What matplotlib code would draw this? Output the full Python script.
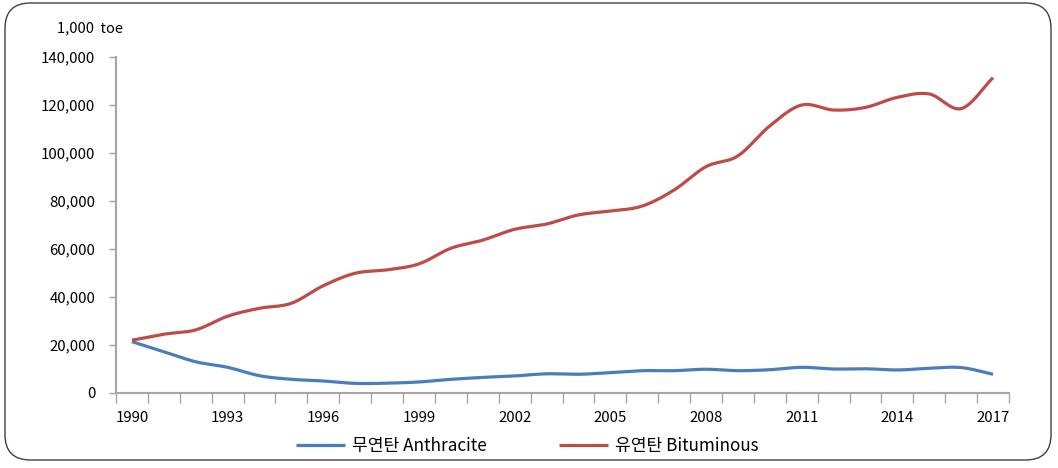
import numpy as np
import matplotlib
matplotlib.use("Agg")
import matplotlib.pyplot as plt
from matplotlib.patches import FancyBboxPatch
from matplotlib.ticker import FuncFormatter

plt.rcParams['font.family'] = ['Noto Sans CJK KR', 'DejaVu Sans']

years = list(range(1990, 2018))
anthracite = [21400, 17200, 13000, 10700, 7200, 5700, 5000, 4000, 4100, 4600,
              5700, 6500, 7100, 8000, 7800, 8500, 9300, 9300, 9900, 9300,
              9700, 10700, 10000, 10100, 9600, 10300, 10600, 7800]
bituminous = [22000, 24500, 26300, 32000, 35300, 37400, 44700, 49900, 51300, 53800,
              60300, 63700, 68200, 70400, 74200, 75800, 77900, 84600, 94300, 98800,
              111300, 120000, 117900, 119000, 123200, 124600, 118500, 131400]
series_names = ['무연탄 Anthracite', '유연탄 Bituminous']
series_colors = ['#4A7EBB', '#BE4B48']
y_ticks = [0, 20000, 40000, 60000, 80000, 100000, 120000, 140000]
label_years = years[::3]
unit_label = '1,000  toe'


def catmull_rom(x, y, n=24):
    x = np.asarray(x, float)
    y = np.asarray(y, float)
    px = np.concatenate([[2 * x[0] - x[1]], x, [2 * x[-1] - x[-2]]])
    py = np.concatenate([[2 * y[0] - y[1]], y, [2 * y[-1] - y[-2]]])
    xs, ys = [], []
    t = np.linspace(0, 1, n, endpoint=False)
    for i in range(1, len(px) - 2):
        for arr, out in ((px, xs), (py, ys)):
            p0, p1, p2, p3 = arr[i - 1], arr[i], arr[i + 1], arr[i + 2]
            out.append(0.5 * ((2 * p1) + (-p0 + p2) * t
                              + (2 * p0 - 5 * p1 + 4 * p2 - p3) * t ** 2
                              + (-p0 + 3 * p1 - 3 * p2 + p3) * t ** 3))
    xs.append([x[-1]])
    ys.append([y[-1]])
    return np.concatenate(xs), np.concatenate(ys)


fig = plt.figure(figsize=(10.58, 4.68), dpi=100)
W, H = 1058, 468

# rounded outer border
border = FancyBboxPatch((5 / W, 8 / H), (1051 - 5) / W, (465 - 8) / H,
                        boxstyle="round,pad=0,rounding_size=0.024",
                        transform=fig.transFigure, facecolor='none',
                        edgecolor='#404040', linewidth=1.0, mutation_aspect=W / H,
                        zorder=-1)
fig.patches.append(border)

ax = fig.add_axes([116 / W, 1 - 393 / H, (1009 - 116) / W, (393 - 57) / H])
ax.set_facecolor('none')

idx = np.arange(len(years))
for vals, name, col in zip([anthracite, bituminous], series_names, series_colors):
    sx, sy = catmull_rom(idx, vals)
    ax.plot(sx, sy, color=col, lw=2.3, label=name, solid_capstyle='butt')

ax.set_xlim(-0.5, len(years) - 0.5)
ax.set_ylim(0, 140000)

for s in ['top', 'right']:
    ax.spines[s].set_visible(False)
ax.spines['left'].set_color('#A6A6A6')
ax.spines['bottom'].set_color('#A6A6A6')
ax.spines['left'].set_linewidth(1.5)
ax.spines['bottom'].set_linewidth(1.5)

ax.set_yticks(y_ticks)
ax.yaxis.set_major_formatter(FuncFormatter(lambda v, p: f'{int(v):,}'))
ax.tick_params(axis='y', length=5, width=1, color='#A6A6A6', pad=10,
               labelsize=10.8, labelcolor='black')

# category boundary ticks (major), labels at centers (minor)
ax.set_xticks(np.arange(-0.5, len(years), 1.0))
ax.set_xticklabels([])
ax.tick_params(axis='x', which='major', length=7, width=1, color='#A6A6A6')
ax.set_xticks([years.index(y) for y in label_years], minor=True)
ax.set_xticklabels([str(y) for y in label_years], minor=True)
ax.tick_params(axis='x', which='minor', length=0, pad=13, labelsize=10.8,
               labelcolor='black')

fig.text(57 / W, 1 - 28 / H, unit_label, fontsize=10.5, va='center', ha='left')

leg = fig.legend(loc='center', bbox_to_anchor=(527 / W, 1 - 446 / H), ncol=2,
                 frameon=False, fontsize=12.3, handlelength=2.9, columnspacing=4.2,
                 handletextpad=0.4)

fig.savefig('out.png', dpi=100)
